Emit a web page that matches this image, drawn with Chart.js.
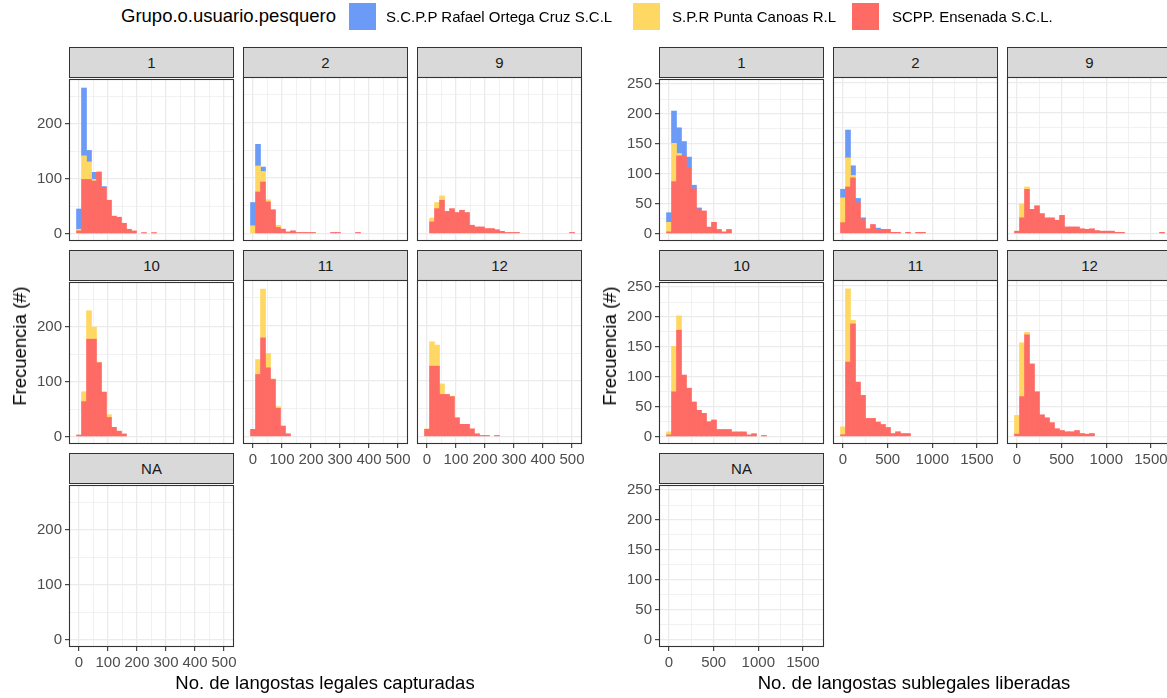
<!DOCTYPE html>
<html lang="es">
<head>
<meta charset="utf-8">
<title>Langostas por grupo pesquero</title>
<script src="https://cdn.jsdelivr.net/npm/chart.js@4.4.1/dist/chart.umd.min.js"></script>
<style>
  html, body { margin: 0; padding: 0; overflow: hidden; background: #fff; }
  body { font-family: "Liberation Sans", Arial, sans-serif; }
  #figura { position: relative; width: 1167px; height: 698px; overflow: hidden; }
  #figura canvas { position: absolute; }
  .tira { position: absolute; box-sizing: border-box; background: #d9d9d9; border: 1px solid #333333;
          color: #1a1a1a; font-size: 15px; display: flex; align-items: center; justify-content: center; }
  .texto { position: absolute; white-space: nowrap; color: #000; }
  .titulo-eje { font-size: 18.5px; transform: translate(-50%, -50%); }
  .titulo-y { transform: translate(-50%, -50%) rotate(-90deg); }
  .clave { position: absolute; width: 27px; height: 27px; }
  .etiqueta-leyenda { font-size: 15px; transform: translateY(-50%); }
</style>
</head>
<body>
<div id="figura"></div>
<script>
// grupos en el orden de la leyenda (el primero queda arriba en la pila)
const grupos = ["S.C.P.P Rafael Ortega Cruz S.C.L", "S.P.R Punta Canoas R.L", "SCPP. Ensenada S.C.L."];
const coloresGrupos = ["#6b9bf7", "#fed862", "#fe6a64"];
const meses = ["1", "2", "9", "10", "11", "12", "NA"];

// conteos por bin (bin 0 centrado en 0), legales capturadas
const legal1Rafael = [37, 124, 21, 13, 0, 2];
const legal1Canoas = [3, 43, 32, 3, 2];
const legal1Ensenada = [5, 99, 99, 96, 112, 84, 61, 32, 30, 19, 8, 5, 0, 2, 0, 2];

const legal2Rafael = [42, 39, 8];
const legal2Canoas = [14, 47, 19, 4, 0, 4];
const legal2Ensenada = [0, 75, 93, 57, 43, 11, 8, 3, 5, 2, 2, 2, 2, 0, 0, 0, 2, 2, 0, 0, 0, 2];

const legal9Rafael = [];
const legal9Canoas = [0, 7, 11, 8];
const legal9Ensenada = [0, 21, 45, 60, 40, 45, 38, 42, 38, 15, 12, 12, 9, 9, 7, 4, 2, 2, 2, 0, 0, 0, 0, 0, 0, 0, 0, 0, 0, 2];

const legal10Rafael = [];
const legal10Canoas = [0, 18, 52, 22, 1, 1, 5];
const legal10Ensenada = [3, 64, 178, 178, 135, 81, 35, 17, 10, 5];

const legal11Rafael = [];
const legal11Canoas = [0, 27, 88, 26, 1, 3];
const legal11Ensenada = [13, 112, 178, 124, 103, 51, 19, 5];

const legal12Rafael = [];
const legal12Canoas = [1, 44, 38, 19, 0, 1];
const legal12Ensenada = [13, 127, 127, 76, 76, 72, 34, 22, 22, 14, 5, 2, 2, 0, 2];

const legalNARafael = [];
const legalNACanoas = [];
const legalNAEnsenada = [];

// sublegales liberadas
const sublegal1Rafael = [16, 54, 43, 24, 18, 6, 2];
const sublegal1Canoas = [16, 64, 4];
const sublegal1Ensenada = [3, 87, 130, 130, 110, 75, 41, 38, 11, 19, 7, 3, 7];

const sublegal2Rafael = [14, 46, 16, 7, 2, 0, 0, 2];
const sublegal2Canoas = [41, 48, 4];
const sublegal2Ensenada = [18, 77, 92, 51, 24, 8, 15, 7, 7, 7, 2, 2, 0, 2, 0, 2, 2];

const sublegal9Rafael = [];
const sublegal9Canoas = [0, 23, 4];
const sublegal9Ensenada = [4, 26, 73, 40, 46, 33, 26, 26, 22, 30, 11, 11, 11, 8, 7, 8, 5, 4, 4, 4, 2, 2, 0, 0, 0, 0, 0, 0, 0, 2];

const sublegal10Rafael = [];
const sublegal10Canoas = [5, 76, 24];
const sublegal10Ensenada = [3, 75, 178, 103, 81, 58, 44, 39, 25, 28, 12, 12, 12, 8, 8, 8, 3, 5, 0, 2];

const sublegal11Rafael = [];
const sublegal11Canoas = [13, 121, 6];
const sublegal11Ensenada = [3, 123, 186, 90, 68, 30, 30, 24, 20, 15, 5, 8, 5, 5];

const sublegal12Rafael = [];
const sublegal12Canoas = [31, 89, 4];
const sublegal12Ensenada = [4, 66, 168, 120, 74, 36, 31, 23, 13, 10, 8, 8, 10, 5, 4, 5];

const sublegalNARafael = [];
const sublegalNACanoas = [];
const sublegalNAEnsenada = [];

// ejes
const NUM_BINS = 30;
const anchoBinLegal = 500 / 29;
const anchoBinSublegal = 56;
const ticksXLegal = [0, 100, 200, 300, 400, 500];
const menoresXLegal = [50, 150, 250, 350, 450];
const ticksYLegal = [0, 100, 200];
const menoresYLegal = [50, 150, 250];
const ticksXSublegal = [0, 500, 1000, 1500];
const menoresXSublegal = [250, 750, 1250];
const ticksYSublegal = [0, 50, 100, 150, 200, 250];
const menoresYSublegal = [25, 75, 125, 175, 225];

// disposicion
const ANCHO_PANEL = 165;
const ALTO_PANEL = 164;
const ALTO_TIRA = 30;
const filasTira = [47, 250, 453];
const MARGEN_IZQ = 50, MARGEN_SUP = 10, MARGEN_DER = 15, MARGEN_INF = 30;

Chart.defaults.font.family = '"Liberation Sans", Arial, sans-serif';

const figura = document.getElementById("figura");

const bordePanel = {
    id: "bordePanel",
    afterDraw(chart) {
        const { ctx, chartArea: a } = chart;
        ctx.save();
        ctx.strokeStyle = "#333333";
        ctx.lineWidth = 1.1;
        ctx.strokeRect(a.left + 0.5, a.top + 0.5, a.width - 1, a.height - 1);
        ctx.restore();
    }
};

function aPuntos(serie, anchoBin) {
    return Array.from({ length: NUM_BINS }, (_, i) => ({
        x: i * anchoBin,
        y: serie[i] ? serie[i] : null
    }));
}

function agregarTexto(texto, clase, x, y) {
    const el = document.createElement("div");
    el.className = "texto " + clase;
    el.style.left = x + "px";
    el.style.top = y + "px";
    el.textContent = texto;
    figura.appendChild(el);
    return el;
}

function opcionesEje(limites, mayores, menores, mostrar, alAjustar) {
    const lineas = [...mayores, ...menores].sort((a, b) => a - b);
    const esMayor = (c) => c.tick && mayores.includes(c.tick.value);
    return {
        type: "linear",
        stacked: true,
        offset: false,
        bounds: "data",
        min: limites[0],
        max: limites[1],
        afterBuildTicks: (eje) => { eje.ticks = lineas.map(v => ({ value: v })); },
        afterFit: alAjustar,
        border: { display: false },
        grid: {
            offset: false,
            color: "#ebebeb",
            lineWidth: (c) => esMayor(c) ? 1.3 : 0.7,
            tickColor: (c) => (mostrar && esMayor(c)) ? "#333333" : "rgba(0,0,0,0)",
            tickWidth: 1.1,
            tickLength: 4
        },
        ticks: {
            display: mostrar,
            autoSkip: false,
            maxRotation: 0,
            minRotation: 0,
            padding: 3,
            color: "#4d4d4d",
            font: { size: 15 },
            callback: (v) => mayores.includes(v) ? String(v) : ""
        }
    };
}

function crearPanel(cuadricula, indice) {
    const col = indice % 3;
    const fila = Math.floor(indice / 3);
    const x = cuadricula.columnas[col];
    const yTira = filasTira[fila];
    const yPanel = yTira + ALTO_TIRA;

    const tira = document.createElement("div");
    tira.className = "tira";
    tira.style.left = x + "px";
    tira.style.top = yTira + "px";
    tira.style.width = ANCHO_PANEL + "px";
    tira.style.height = (ALTO_TIRA + 1) + "px";
    tira.textContent = meses[indice];
    figura.appendChild(tira);

    const lienzo = document.createElement("canvas");
    lienzo.width = ANCHO_PANEL + MARGEN_IZQ + MARGEN_DER;
    lienzo.height = ALTO_PANEL + MARGEN_SUP + MARGEN_INF;
    lienzo.style.left = (x - MARGEN_IZQ) + "px";
    lienzo.style.top = (yPanel - MARGEN_SUP) + "px";
    figura.appendChild(lienzo);

    const mostrarY = col === 0;
    const mostrarX = fila === 2 || (fila === 1 && col > 0);
    const series = cuadricula.series[indice];

    // Ensenada abajo, Canoas en medio, Rafael arriba
    const orden = [2, 1, 0];

    new Chart(lienzo, {
        type: "bar",
        data: {
            datasets: orden.map(k => ({
                label: grupos[k],
                data: aPuntos(series[k], cuadricula.anchoBin),
                backgroundColor: coloresGrupos[k],
                borderWidth: 0,
                barPercentage: 1,
                categoryPercentage: 1
            }))
        },
        options: {
            responsive: false,
            animation: false,
            events: [],
            layout: { padding: { top: MARGEN_SUP, right: MARGEN_DER, left: 0, bottom: 0 } },
            plugins: { legend: { display: false }, tooltip: { enabled: false } },
            scales: {
                x: opcionesEje(cuadricula.limitesX, cuadricula.ticksX, cuadricula.menoresX, mostrarX,
                    (eje) => { eje.height = MARGEN_INF; }),
                y: opcionesEje(cuadricula.limitesY, cuadricula.ticksY, cuadricula.menoresY, mostrarY,
                    (eje) => { eje.width = MARGEN_IZQ; })
            }
        },
        plugins: [bordePanel]
    });
}

const cuadriculas = [
    {
        columnas: [69, 243, 417],
        anchoBin: anchoBinLegal,
        limitesX: [-34.5, 534.5],
        limitesY: [-13.45, 282.45],
        ticksX: ticksXLegal, menoresX: menoresXLegal,
        ticksY: ticksYLegal, menoresY: menoresYLegal,
        series: [
            [legal1Rafael, legal1Canoas, legal1Ensenada],
            [legal2Rafael, legal2Canoas, legal2Ensenada],
            [legal9Rafael, legal9Canoas, legal9Ensenada],
            [legal10Rafael, legal10Canoas, legal10Ensenada],
            [legal11Rafael, legal11Canoas, legal11Ensenada],
            [legal12Rafael, legal12Canoas, legal12Ensenada],
            [legalNARafael, legalNACanoas, legalNAEnsenada]
        ],
        tituloX: "No. de langostas legales capturadas",
        centroX: 325,
        xTituloY: 20
    },
    {
        columnas: [659, 833, 1007],
        anchoBin: anchoBinSublegal,
        limitesX: [-112, 1736],
        limitesY: [-12.3, 258.6],
        ticksX: ticksXSublegal, menoresX: menoresXSublegal,
        ticksY: ticksYSublegal, menoresY: menoresYSublegal,
        series: [
            [sublegal1Rafael, sublegal1Canoas, sublegal1Ensenada],
            [sublegal2Rafael, sublegal2Canoas, sublegal2Ensenada],
            [sublegal9Rafael, sublegal9Canoas, sublegal9Ensenada],
            [sublegal10Rafael, sublegal10Canoas, sublegal10Ensenada],
            [sublegal11Rafael, sublegal11Canoas, sublegal11Ensenada],
            [sublegal12Rafael, sublegal12Canoas, sublegal12Ensenada],
            [sublegalNARafael, sublegalNACanoas, sublegalNAEnsenada]
        ],
        tituloX: "No. de langostas sublegales liberadas",
        centroX: 914,
        xTituloY: 610
    }
];

cuadriculas.forEach(c => {
    meses.forEach((_, i) => crearPanel(c, i));
    agregarTexto(c.tituloX, "titulo-eje", c.centroX, 683);
    agregarTexto("Frecuencia (#)", "titulo-eje titulo-y", c.xTituloY, 346);
});

// leyenda
agregarTexto("Grupo.o.usuario.pesquero", "titulo-eje", 0, 16).style.cssText +=
    "left:121px;transform:translateY(-50%);";
const clavesX = [349, 633, 852];
const etiquetasX = [386, 672, 892];
grupos.forEach((g, k) => {
    const clave = document.createElement("div");
    clave.className = "clave";
    clave.style.left = clavesX[k] + "px";
    clave.style.top = "3px";
    clave.style.background = coloresGrupos[k];
    figura.appendChild(clave);
    agregarTexto(g, "etiqueta-leyenda", etiquetasX[k], 16);
});
</script>
</body>
</html>
